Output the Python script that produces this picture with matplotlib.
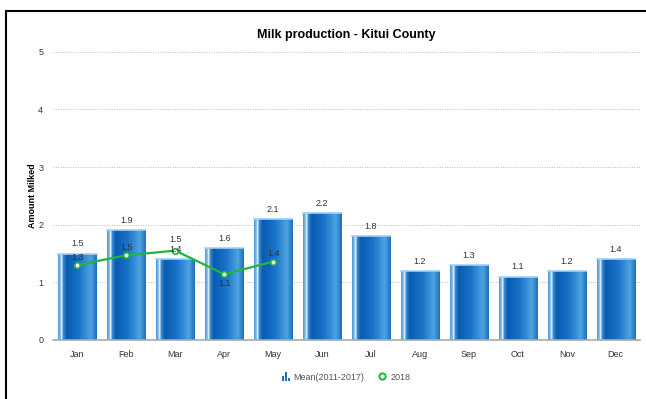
import numpy as np
import matplotlib.pyplot as plt
from matplotlib.colors import LinearSegmentedColormap
from matplotlib.lines import Line2D
from matplotlib.patches import Rectangle
from matplotlib.legend_handler import HandlerBase

# Data
months = ["Jan", "Feb", "Mar", "Apr", "May", "Jun",
          "Jul", "Aug", "Sep", "Oct", "Nov", "Dec"]
mean_vals = [1.5, 1.9, 1.4, 1.6, 2.1, 2.2, 1.8, 1.2, 1.3, 1.1, 1.2, 1.4]
y2018_months = ["Jan", "Feb", "Mar", "Apr", "May"]
y2018_vals = [1.3, 1.47, 1.55, 1.14, 1.36]
y2018_labels = ["1.3", "1.5", "1.5", "1.1", "1.4"]

plt.rcParams['font.family'] = ['Liberation Sans', 'DejaVu Sans']


# Legend icon: three little bars like the original chart.
class BarIcon(HandlerBase):
    def create_artists(self, legend, orig, xd, yd, w, h, fs, trans):
        arts = []
        bw = w * 0.2
        for i, frac in enumerate([0.6, 1.0, 0.35]):
            r = Rectangle((xd + w * 0.15 + i * bw * 1.6, yd - h * 0.15),
                          bw, h * 1.3 * frac, color="#1a6fc4", lw=0,
                          transform=trans)
            arts.append(r)
        return arts


fig = plt.figure(figsize=(6.46, 3.99), dpi=100)
ax = fig.add_axes([0.082, 0.148, 0.909, 0.722])

x = np.arange(len(months))
width = 0.78

# cylinder-like gradient for the bars
cmap = LinearSegmentedColormap.from_list("bar", [
    (0.0, "#4f9ad8"), (0.06, "#8cc4ee"), (0.09, "#ffffff"), (0.12, "#3d8fd6"),
    (0.22, "#0a5bb0"), (0.55, "#1a74c9"), (0.85, "#4fa3e0"), (1.0, "#1f6fbf")])
grad = np.linspace(0, 1, 64).reshape(1, -1)

bars = ax.bar(x, mean_vals, width, color="#1a6fc4", zorder=2)
for b in bars:
    x0, w, h = b.get_x(), b.get_width(), b.get_height()
    im = ax.imshow(grad, cmap=cmap, aspect="auto",
                   extent=[x0, x0 + w, 0, h], zorder=2.1)
    im.set_clip_path(b)
    ax.plot([x0, x0 + w], [h, h], color="#9fd0f5", lw=1.2, zorder=2.2)

for xi, v in zip(x, mean_vals):
    ax.text(xi, v + 0.09, f"{v:.1f}", ha="center", va="bottom",
            fontsize=6.5, color="#333333", zorder=4)

# 2018 line
lx = [months.index(m) for m in y2018_months]
ax.plot(lx, y2018_vals, color="#1fb53e", lw=1.6, marker="o", markersize=4,
        markerfacecolor="white", markeredgecolor="#1fb53e",
        markeredgewidth=1.2, zorder=3)
for xi, v, lab in zip(lx, y2018_vals, y2018_labels):
    if lab == "1.1":
        ax.text(xi, v - 0.09, lab, ha="center", va="top", fontsize=6.5,
                color="#333333", zorder=4)
    elif xi == 2:
        ax.text(xi, v + 0.12, lab, ha="center", va="bottom", fontsize=6.5,
                color="#333333", zorder=4)
    else:
        ax.text(xi, v + 0.06, lab, ha="center", va="bottom", fontsize=6.5,
                color="#333333", zorder=4)

ax.set_xlim(-0.5, 11.5)
ax.set_ylim(0, 5)
ax.set_yticks([0, 1, 2, 3, 4, 5])
ax.set_xticks(x)
ax.set_xticklabels(months)
ax.tick_params(axis="both", length=0, labelsize=6.5, labelcolor="#333333")
ax.tick_params(axis="x", pad=7)
ax.tick_params(axis="y", pad=7)
ax.grid(axis="y", linestyle=(0, (1, 1.5)), color="#bbbbbb", lw=0.7, zorder=0)
for s in ["top", "right", "left"]:
    ax.spines[s].set_visible(False)
ax.spines["bottom"].set_color("#aaaaaa")
ax.spines["bottom"].set_linewidth(1.2)
ax.set_axisbelow(True)

ax.set_ylabel("Amount Milked", fontsize=6.5, fontweight="bold", labelpad=1)
ax.set_title("Milk production - Kitui County", fontsize=9, fontweight="bold",
             pad=10)

handles = [
    Rectangle((0, 0), 1, 1, color="#1a6fc4"),
    Line2D([], [], marker="o", color="#1fb53e", ls="none", markersize=4.5,
           markerfacecolor="white", markeredgewidth=1.4),
]
fig.legend(handles, ["Mean(2011-2017)", "2018"], loc="center",
           bbox_to_anchor=(0.535, 0.055), ncol=2, frameon=False,
           fontsize=6.5, labelcolor="#555555", handlelength=1.0,
           handletextpad=0.4, columnspacing=1.5,
           handler_map={Rectangle: BarIcon()})

# black frame around the chart (left and top edges visible)
fig.add_artist(Rectangle((6 / 646, -0.05), 1.1, 1 - 11 / 399 + 0.05,
                         transform=fig.transFigure, fill=False,
                         edgecolor="black", lw=1.5))

fig.savefig("out.png", dpi=100)
